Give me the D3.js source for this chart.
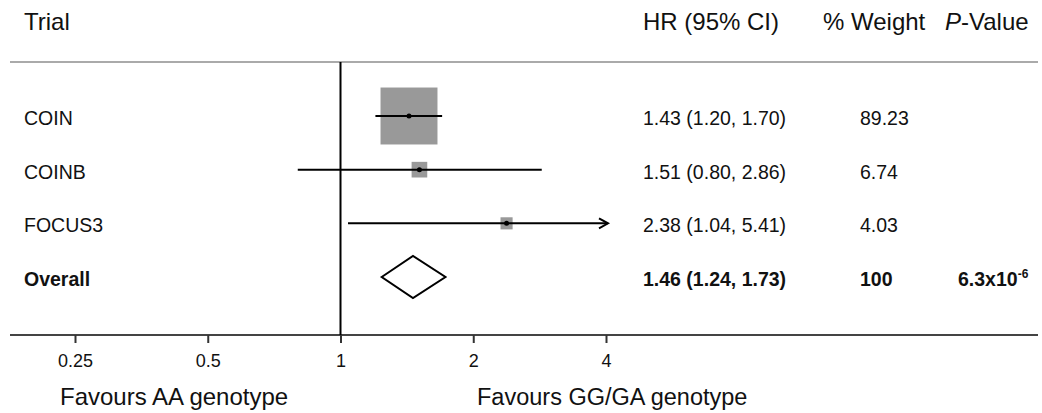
<!DOCTYPE html>
<html>
<head>
<meta charset="utf-8">
<script src="https://cdn.jsdelivr.net/npm/d3@7"></script>
<style>
  body { margin: 0; background: #fff; }
  text { font-family: "Liberation Sans", Arial, sans-serif; fill: #111; }
</style>
</head>
<body>
<div id="canvas"></div>
<script>
var w = 1042;
var h = 413;

// data
var trials = ["COIN", "COINB", "FOCUS3"];
var hr = [1.43, 1.51, 2.38];
var lower = [1.20, 0.80, 1.04];
var upper = [1.70, 2.86, 5.41];
var weight = [89.23, 6.74, 4.03];
var hrText = ["1.43 (1.20, 1.70)", "1.51 (0.80, 2.86)", "2.38 (1.04, 5.41)"];
var weightText = ["89.23", "6.74", "4.03"];

var overallHr = 1.46;
var overallLower = 1.24;
var overallUpper = 1.73;
var overallText = "1.46 (1.24, 1.73)";
var overallWeight = "100";
var pBase = "6.3x10";
var pExp = "-6";

var tickValues = [0.25, 0.5, 1, 2, 4];
var rows = trials.concat(["Overall"]);

var svg = d3.select("#canvas").append("svg")
    .attr("width", w)
    .attr("height", h);

var x = d3.scaleLog().base(2)
    .domain([0.25, 4])
    .range([75, 606]);

var y = d3.scalePoint()
    .domain(rows)
    .range([116, 277]);

var boxSize = d3.scaleSqrt()
    .domain([0, 100])
    .range([0, 60.3]);

var axisY = 335;
var maxX = x.domain()[1];

// header
var header = svg.append("g").style("font-size", "24px");
header.append("text").attr("x", 24).attr("y", 30).text("Trial");
header.append("text").attr("x", 643).attr("y", 30).text("HR (95% CI)");
header.append("text").attr("x", 823).attr("y", 30).text("% Weight");
var pv = header.append("text").attr("x", 945).attr("y", 30);
pv.append("tspan").style("font-style", "italic").text("P");
pv.append("tspan").text("-Value");

svg.append("line")
    .attr("x1", 10).attr("x2", 1038)
    .attr("y1", 62).attr("y2", 62)
    .attr("stroke", "#aaa")
    .attr("stroke-width", 2);

// axis
svg.append("line")
    .attr("x1", 10).attr("x2", 1038)
    .attr("y1", axisY).attr("y2", axisY)
    .attr("stroke", "#444")
    .attr("stroke-width", 2);

var axis = svg.append("g")
    .attr("transform", "translate(0," + axisY + ")")
    .call(d3.axisBottom(x)
        .tickValues(tickValues)
        .tickFormat(function(d){ return d; })
        .tickSize(8)
        .tickSizeOuter(0)
        .tickPadding(11));
axis.attr("font-size", 18).attr("font-family", "'Liberation Sans', Arial, sans-serif");
axis.select(".domain").remove();
axis.selectAll(".tick line").attr("stroke", "#333").attr("stroke-width", 2);
axis.selectAll(".tick text").attr("fill", "#111");

svg.append("text").attr("x", 60).attr("y", 405)
    .style("font-size", "24px").text("Favours AA genotype");
svg.append("text").attr("x", 477).attr("y", 405)
    .style("font-size", "23.5px").text("Favours GG/GA genotype");

// line of no effect
svg.append("line")
    .attr("x1", x(1)).attr("x2", x(1))
    .attr("y1", 62).attr("y2", axisY)
    .attr("stroke", "#000")
    .attr("stroke-width", 2);

// trial rows
trials.forEach(function(t, i) {
    var cy = y(t);
    var s = boxSize(weight[i]);
    var g = svg.append("g");

    g.append("rect")
        .attr("x", x(hr[i]) - s / 2)
        .attr("y", cy - s / 2)
        .attr("width", s)
        .attr("height", s)
        .attr("fill", "#999");

    var x2 = upper[i] > maxX ? x(maxX) + 2 : x(upper[i]);
    g.append("line")
        .attr("x1", x(lower[i])).attr("x2", x2)
        .attr("y1", cy).attr("y2", cy)
        .attr("stroke", "#000")
        .attr("stroke-width", 2);

    if (upper[i] > maxX) {
        // clipped interval gets an arrow head
        g.append("path")
            .attr("d", "M" + (x2 - 9) + "," + (cy - 5) + "L" + x2 + "," + cy + "L" + (x2 - 9) + "," + (cy + 5))
            .attr("fill", "none")
            .attr("stroke", "#000")
            .attr("stroke-width", 2);
    }

    g.append("circle")
        .attr("cx", x(hr[i]))
        .attr("cy", cy)
        .attr("r", 2.5)
        .attr("fill", "#000");

    g.append("text").attr("x", 24).attr("y", cy + 9)
        .style("font-size", "19.5px").text(t);
    g.append("text").attr("x", 643).attr("y", cy + 9)
        .style("font-size", "19.5px").text(hrText[i]);
    g.append("text").attr("x", 860).attr("y", cy + 9)
        .style("font-size", "19.5px").text(weightText[i]);
});

// overall row
var oy = y("Overall");
svg.append("path")
    .attr("d", "M" + x(overallLower) + "," + oy +
               "L" + x(overallHr) + "," + (oy - 21) +
               "L" + x(overallUpper) + "," + oy +
               "L" + x(overallHr) + "," + (oy + 21) + "Z")
    .attr("fill", "#fff")
    .attr("stroke", "#000")
    .attr("stroke-width", 2);

var ov = svg.append("g").style("font-size", "19.5px").style("font-weight", "bold");
ov.append("text").attr("x", 24).attr("y", oy + 9).text("Overall");
ov.append("text").attr("x", 643).attr("y", oy + 9).text(overallText);
ov.append("text").attr("x", 860).attr("y", oy + 9).text(overallWeight);
var pt = ov.append("text").attr("x", 958).attr("y", oy + 9);
pt.append("tspan").text(pBase);
pt.append("tspan").attr("dy", -8).style("font-size", "12px").text(pExp);
</script>
</body>
</html>
